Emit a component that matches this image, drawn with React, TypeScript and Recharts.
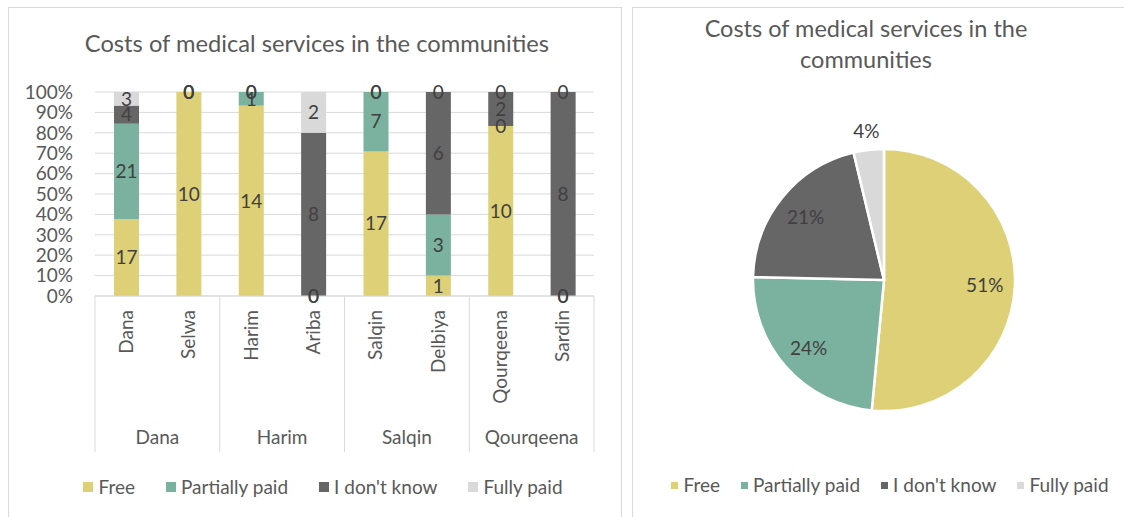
import React from "react";
import {
  BarChart,
  Bar,
  XAxis,
  YAxis,
  CartesianGrid,
  Legend,
  LabelList,
  PieChart,
  Pie,
  Cell,
} from "recharts";

// communities and the district each one belongs to
const communities = ["Dana", "Selwa", "Harim", "Ariba", "Salqin", "Delbiya", "Qourqeena", "Sardin"];
const districts = ["Dana", "Dana", "Harim", "Harim", "Salqin", "Salqin", "Qourqeena", "Qourqeena"];

// answers per community
const free = [17, 10, 14, 0, 17, 1, 10, 0];
const partiallyPaid = [21, 0, 1, 0, 7, 3, 0, 0];
const dontKnow = [4, 0, 0, 8, 0, 6, 2, 8];
const fullyPaid = [3, 0, 0, 2, 0, 0, 0, 0];

const seriesKeys = ["free", "partial", "unknown", "fully"];
const seriesNames = ["Free", "Partially paid", "I don't know", "Fully paid"];
const seriesColors = ["#DDD077", "#7BB29F", "#666666", "#D9D9D9"];

// totals over all communities, for the pie
const pieTotals = [69, 32, 28, 5];

const percentTicks = [0, 0.1, 0.2, 0.3, 0.4, 0.5, 0.6, 0.7, 0.8, 0.9, 1];

const rows = communities.map((name, i) => ({
  name,
  district: districts[i],
  free: free[i],
  partial: partiallyPaid[i],
  unknown: dontKnow[i],
  fully: fullyPaid[i],
}));

const pieData = seriesNames.map((name, i) => ({ name, value: pieTotals[i] }));

const FONT = "Lato, 'Open Sans', sans-serif";
const TEXT = "#595959";
const LABEL = "#404040";
const GRID = "#D9D9D9";
const FS = 19;

const PLOT_W = 499;
const BAND = PLOT_W / communities.length;
const AXIS_H = 156;

const CategoryTick = (props: any) => {
  const { x, y, payload, index } = props;
  const half = BAND / 2;
  const first = index % 2 === 0;
  return (
    <g>
      <text
        transform={`translate(${x},${y + 14}) rotate(-90)`}
        textAnchor="end"
        dy="0.35em"
        fill={TEXT}
        fontSize={FS}
        fontFamily={FONT}
      >
        {payload.value}
      </text>
      {first && <line x1={x - half} x2={x - half} y1={y} y2={y + AXIS_H} stroke={GRID} />}
      {index === communities.length - 1 && (
        <line x1={x + half} x2={x + half} y1={y} y2={y + AXIS_H} stroke={GRID} />
      )}
      {first && (
        <text x={x + half} y={y + 148} textAnchor="middle" fill={TEXT} fontSize={FS} fontFamily={FONT}>
          {rows[index].district}
        </text>
      )}
    </g>
  );
};

const makeLegend = (gap: number, square: number) => (props: any) => {
  const items = [...(props.payload || [])].sort(
    (a: any, b: any) => seriesNames.indexOf(a.value) - seriesNames.indexOf(b.value)
  );
  return (
    <div style={{ display: "flex", justifyContent: "center", gap, fontFamily: FONT, fontSize: FS, color: TEXT, lineHeight: "24px" }}>
      {items.map((p: any) => (
        <span key={p.value} style={{ display: "flex", alignItems: "center" }}>
          <span style={{ width: square, height: square, background: p.color, marginRight: 5, display: "inline-block" }} />
          <span>{p.value}</span>
        </span>
      ))}
    </div>
  );
};

const renderPieLabel = (props: any) => {
  const { cx, cy, midAngle, outerRadius, percent } = props;
  const r = percent < 0.1 ? outerRadius + 20 : outerRadius * 0.77;
  const rad = Math.PI / 180;
  const x = cx + r * Math.cos(-midAngle * rad);
  const y = cy + r * Math.sin(-midAngle * rad);
  return (
    <text x={x} y={y} textAnchor="middle" dominantBaseline="central" fill={LABEL} fontSize={FS} fontFamily={FONT}>
      {`${Math.round(percent * 100)}%`}
    </text>
  );
};

const boxStyle: React.CSSProperties = {
  position: "absolute",
  top: 7,
  height: 510,
  borderTop: `1px solid ${GRID}`,
  borderLeft: `1px solid ${GRID}`,
  boxSizing: "border-box",
};

const App = () => {
  return (
    <div style={{ position: "absolute", left: 0, top: 0, width: 1124, height: 517, overflow: "hidden", background: "#fff", fontFamily: FONT }}>
      <div style={{ ...boxStyle, left: 8, width: 614, borderRight: `1px solid ${GRID}` }} />
      <div style={{ ...boxStyle, left: 632, width: 492 }} />

      <div style={{ position: "absolute", left: 8, top: 29, width: 618, textAlign: "center", fontSize: 23.7, color: TEXT }}>
        Costs of medical services in the communities
      </div>
      <div style={{ position: "absolute", left: 632, top: 13, width: 468, textAlign: "center", fontSize: 23.5, lineHeight: "31px", color: TEXT }}>
        Costs of medical services in the
        <br />
        communities
      </div>

      <div style={{ position: "absolute", left: 8, top: 7 }}>
        <BarChart
          width={614}
          height={510}
          data={rows}
          stackOffset="expand"
          margin={{ top: 85, right: 28, bottom: 221 - 160, left: 27 }}
        >
          <CartesianGrid vertical={false} stroke={GRID} />
          <XAxis
            dataKey="name"
            interval={0}
            height={160}
            tickLine={false}
            tickSize={0}
            tickMargin={0}
            axisLine={{ stroke: GRID }}
            tick={<CategoryTick />}
          />
          <YAxis
            domain={[0, 1]}
            ticks={percentTicks}
            interval={0}
            tickFormatter={(v: number) => `${Math.round(v * 100)}%`}
            width={60}
            axisLine={false}
            tickLine={false}
            tickSize={0}
            tickMargin={22}
            tick={{ fill: TEXT, fontSize: FS, fontFamily: FONT }}
          />
          {seriesKeys.map((k, i) => (
            <Bar
              key={k}
              dataKey={k}
              name={seriesNames[i]}
              stackId="a"
              fill={seriesColors[i]}
              barSize={25}
              minPointSize={0.01}
              isAnimationActive={false}
            >
              <LabelList dataKey={k} position="center" fill={LABEL} fontSize={FS} fontFamily={FONT} />
            </Bar>
          ))}
          <Legend
            layout="horizontal"
            verticalAlign="middle"
            align="center"
            wrapperStyle={{ top: 468, left: 8, width: 614 }}
            content={makeLegend(31, 10)}
          />
        </BarChart>
      </div>

      <div style={{ position: "absolute", left: 632, top: 7 }}>
        <PieChart width={492} height={510} margin={{ top: 0, right: 0, bottom: 0, left: 0 }}>
          <Pie
            data={pieData}
            dataKey="value"
            nameKey="name"
            cx={252}
            cy={273}
            outerRadius={131}
            startAngle={90}
            endAngle={-270}
            stroke="#fff"
            strokeWidth={2.5}
            label={renderPieLabel}
            labelLine={false}
            isAnimationActive={false}
          >
            {pieData.map((d, i) => (
              <Cell key={d.name} fill={seriesColors[i]} />
            ))}
          </Pie>
          <Legend
            layout="horizontal"
            verticalAlign="middle"
            align="center"
            wrapperStyle={{ top: 466, left: 12, width: 492 }}
            content={makeLegend(21, 7)}
          />
        </PieChart>
      </div>
    </div>
  );
};

export default App;
